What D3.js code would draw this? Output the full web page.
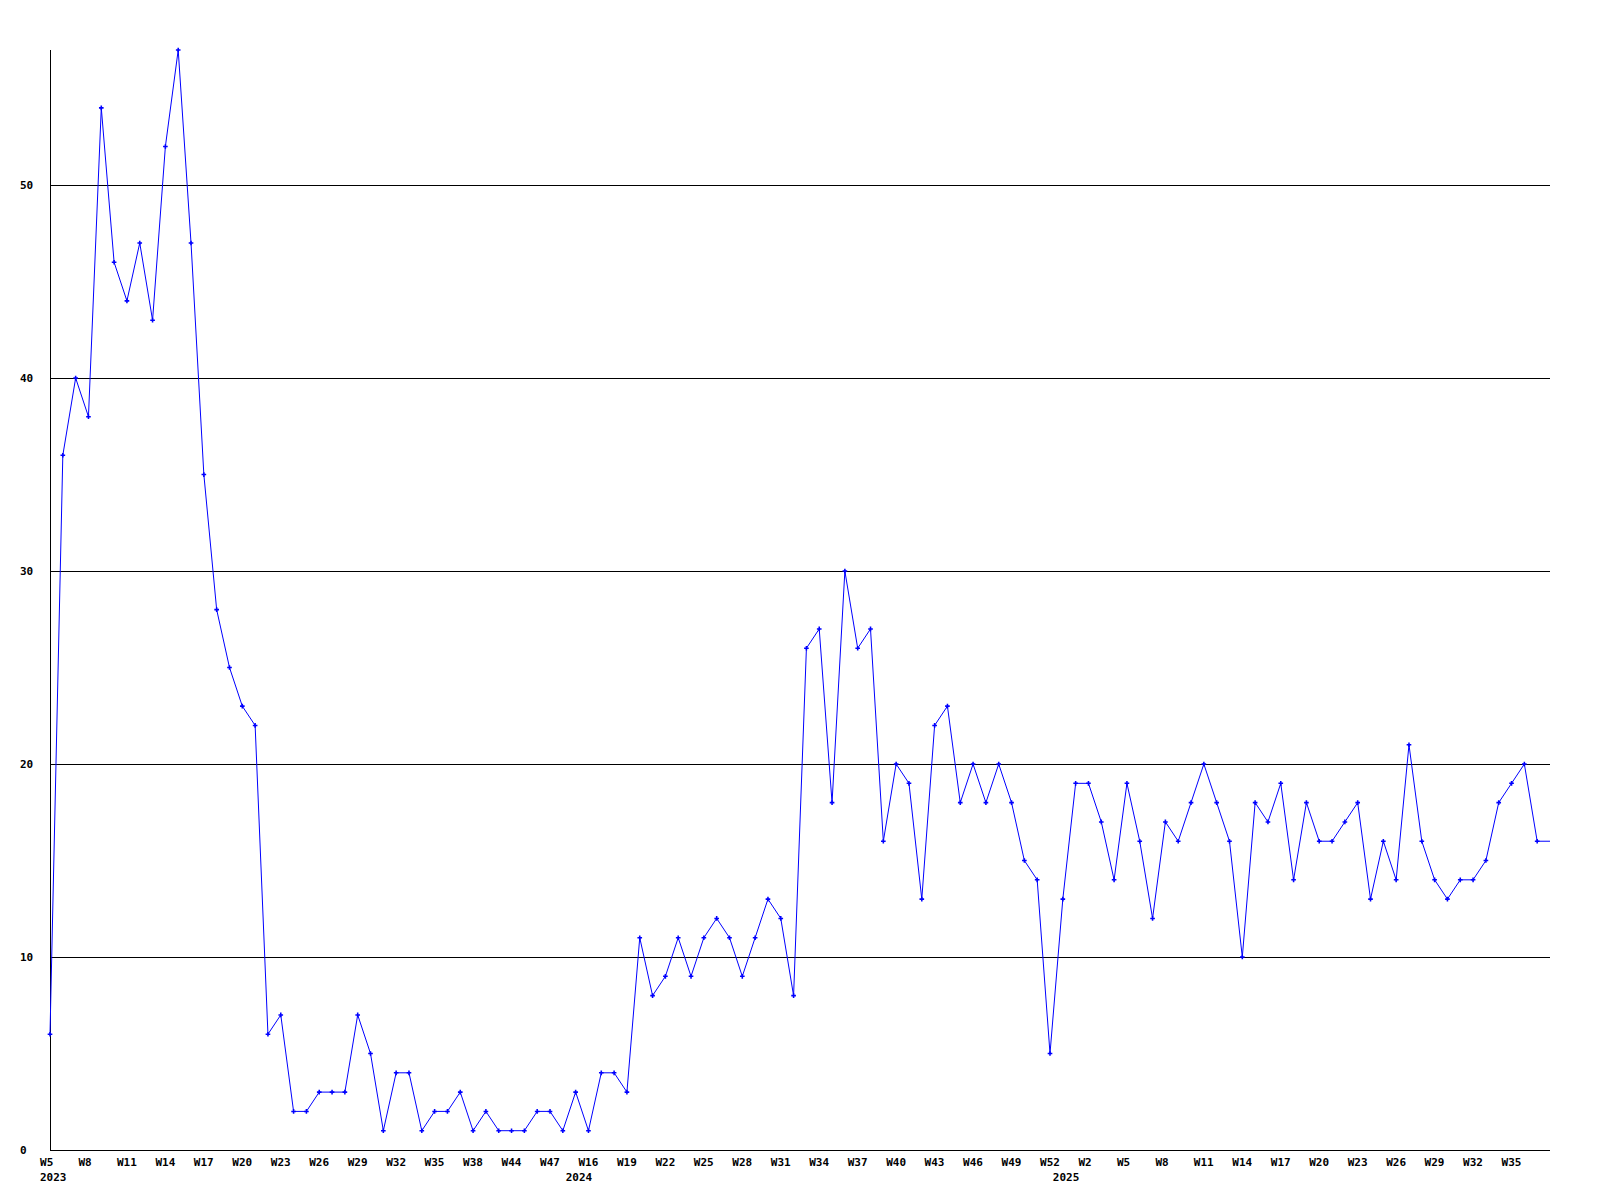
<!DOCTYPE html>
<html lang="en">
<head>
<meta charset="utf-8">
<title>Weekly counts</title>
<script src="https://d3js.org/d3.v7.min.js"></script>
<style>
  body { margin: 0; background: #fff; }
  svg { display: block; }
  text { font-family: "DejaVu Sans Mono", monospace; font-weight: bold; font-size: 11px; fill: #000; }
</style>
</head>
<body>
<script>
// week numbers per year, in the order they appear on the chart
let weeks2023 = [5, 6, 7, 8, 9, 10, 11, 12, 13, 14, 15, 16, 17, 18, 19, 20, 21, 22, 23, 24, 25, 26, 27, 28, 29, 30, 31, 32, 33, 34, 35, 36, 37, 38, 40, 42, 44, 45, 46, 47, 48]
let weeks2024 = [15, 16, 17, 18, 19, 20, 21, 22, 23, 24, 25, 26, 27, 28, 29, 30, 31, 32, 33, 34, 35, 36, 37, 38, 39, 40, 41, 42, 43, 44, 45, 46, 47, 48, 49, 50, 51, 52]
let weeks2025 = [0, 1, 2, 3, 4, 5, 6, 7, 8, 9, 10, 11, 12, 13, 14, 15, 16, 17, 18, 19, 20, 21, 22, 23, 24, 25, 26, 27, 28, 29, 30, 31, 32, 33, 34, 35, 36, 37]

let counts = [
  6, 36, 40, 38, 54, 46, 44, 47, 43, 52, 57, 47, 35, 28, 25, 23, 22, 6, 7, 2,
  2, 3, 3, 3, 7, 5, 1, 4, 4, 1, 2, 2, 3, 1, 2, 1, 1, 1, 2, 2,
  1, 3, 1, 4, 4, 3, 11, 8, 9, 11, 9, 11, 12, 11, 9, 11, 13, 12, 8, 26,
  27, 18, 30, 26, 27, 16, 20, 19, 13, 22, 23, 18, 20, 18, 20, 18, 15, 14, 5, 13,
  19, 19, 17, 14, 19, 16, 12, 17, 16, 18, 20, 18, 16, 10, 18, 17, 19, 14, 18, 16,
  16, 17, 18, 13, 16, 14, 21, 16, 14, 13, 14, 14, 15, 18, 19, 20, 16
]

let yTicks = [0, 10, 20, 30, 40, 50]
let yMax = 57

let width = 1600
let height = 1200
let plotLeft = 50, plotRight = 1550, plotTop = 50, plotBottom = 1150

let points = []
;[[2023, weeks2023], [2024, weeks2024], [2025, weeks2025]].forEach(([yr, wk]) => {
  wk.forEach((w, j) => points.push({ year: yr, week: w, first: j === 0 }))
})
points.forEach((p, i) => { p.value = counts[i]; p.i = i })

let svg = d3.select('body').append('svg')
  .attr('width', width)
  .attr('height', height)

let x = d3.scaleBand()
  .domain(points.map(d => d.i))
  .range([plotLeft, plotRight])
  .paddingInner(0).paddingOuter(0)

let y = d3.scaleLinear()
  .domain([0, yMax])
  .range([plotBottom, plotTop])

// grid lines
svg.append('g')
  .selectAll('line')
  .data(yTicks.filter(t => t > 0))
  .enter().append('line')
  .attr('x1', plotLeft).attr('x2', plotRight)
  .attr('y1', d => Math.round(y(d)) + 0.5)
  .attr('y2', d => Math.round(y(d)) + 0.5)
  .attr('stroke', '#000')
  .attr('shape-rendering', 'crispEdges')

// axis lines
svg.append('line')
  .attr('x1', plotLeft + 0.5).attr('x2', plotLeft + 0.5)
  .attr('y1', plotTop).attr('y2', plotBottom)
  .attr('stroke', '#000')
  .attr('shape-rendering', 'crispEdges')
svg.append('line')
  .attr('x1', plotLeft).attr('x2', plotRight)
  .attr('y1', plotBottom + 0.5).attr('y2', plotBottom + 0.5)
  .attr('stroke', '#000')
  .attr('shape-rendering', 'crispEdges')

// y labels
svg.append('g')
  .selectAll('text')
  .data(yTicks)
  .enter().append('text')
  .attr('x', plotLeft - 30)
  .attr('y', d => y(d) + 4)
  .text(d => d)

// x labels, every third week (band axis puts ticks at band centre, so pull back)
let xAxis = d3.axisBottom(x)
  .tickValues(points.map(d => d.i).filter(i => i % 3 === 0))
  .tickFormat(i => 'W' + points[i].week)
  .tickSize(0)

let gx = svg.append('g')
  .attr('transform', `translate(0,${plotBottom})`)
  .call(xAxis)
gx.select('.domain').remove()
gx.selectAll('text')
  .attr('text-anchor', 'start')
  .attr('dx', -10 - x.bandwidth() / 2)
  .attr('y', 16)
  .attr('dy', 0)
  .attr('fill', '#000')
  .style('font-family', '"DejaVu Sans Mono", monospace')
  .style('font-size', '11px')
  .style('font-weight', 'bold')

// year labels at the first week of each year
svg.append('g')
  .selectAll('text')
  .data(points.filter(d => d.first))
  .enter().append('text')
  .attr('x', d => x(d.i) - 10)
  .attr('y', plotBottom + 31)
  .text(d => d.year)

// line, extended flat to the right edge
let lineData = points.map(d => [x(d.i), y(d.value)])
lineData.push([x.range()[1], y(points[points.length - 1].value)])

svg.append('path')
  .datum(lineData)
  .attr('d', d3.line())
  .attr('fill', 'none')
  .attr('stroke', '#0000ff')
  .attr('stroke-width', 1)

// markers
svg.append('g')
  .selectAll('path')
  .data(points)
  .enter().append('path')
  .attr('transform', d => `translate(${x(d.i)},${y(d.value)})`)
  .attr('d', d3.symbol(d3.symbolCross).size(12))
  .attr('fill', '#0000ff')
</script>
</body>
</html>
